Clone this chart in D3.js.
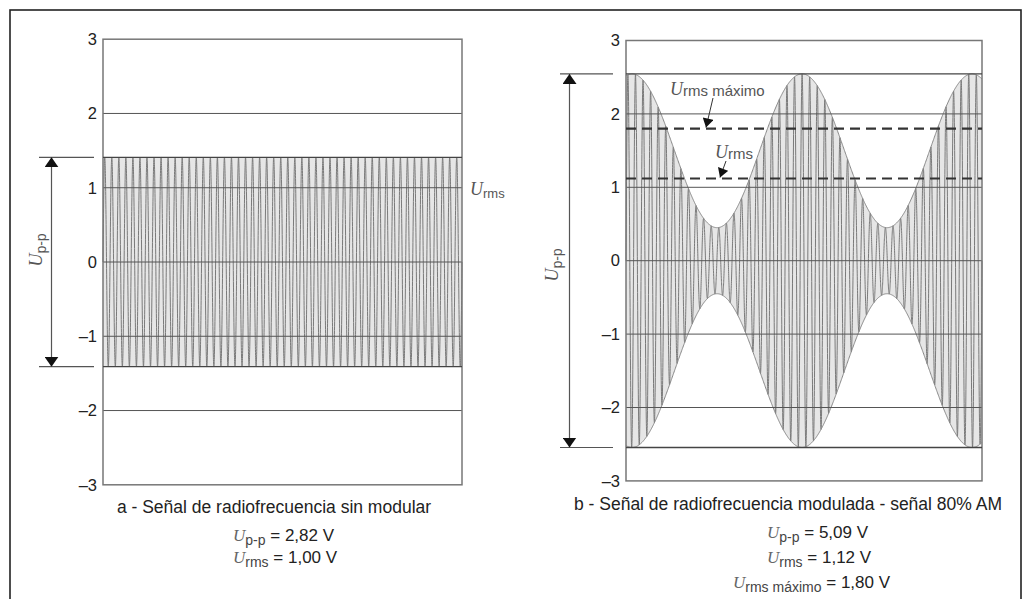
<!DOCTYPE html>
<html>
<head>
<meta charset="utf-8">
<script src="https://cdn.jsdelivr.net/npm/d3@7"></script>
<style>
  html, body { margin: 0; padding: 0; background: #fff; }
  svg { display: block; font-family: "Liberation Sans", Arial, sans-serif; }
</style>
</head>
<body>
<svg id="chart" width="1030" height="599"></svg>
<script>
// ---- values ----
const yTicks = [3, 2, 1, 0, -1, -2, -3];
const panelIds = ["a", "b"];
const titles = [
  "a - Señal de radiofrecuencia sin modular",
  "b - Señal de radiofrecuencia modulada - señal 80% AM"
];
const uPeakToPeak = [2.82, 5.09];     // V
const uRms = [1.00, 1.12];            // V
const uRmsMax = [null, 1.80];         // V
const carrierCycles = [51, 47];       // carrier periods across each plot
const envelopeTrough = [null, 0.45];  // lowest envelope level of the AM signal
const modCycles = [0, 2.094];         // modulation periods across the plot
const modPeakAt = [0, 0.017];         // first envelope crest (fraction of width)

// ---- layout ----
const W = 1030, H = 599;
const frames = [
  { x0: 103, x1: 462, yBottom: 484.8, yTop: 39.2 },
  { x0: 626, x1: 982, yBottom: 480.9, yTop: 40.5 }
];

const svg = d3.select("#chart");

// arrowhead markers
const defs = svg.append("defs");
defs.append("marker")
  .attr("id", "head")
  .attr("viewBox", "0 0 10 14")
  .attr("refX", 10).attr("refY", 7)
  .attr("markerWidth", 10).attr("markerHeight", 14)
  .attr("markerUnits", "userSpaceOnUse")
  .attr("orient", "auto-start-reverse")
  .append("path")
  .attr("d", "M0,0 L10,7 L0,14 Z")
  .attr("fill", "#111");
defs.append("marker")
  .attr("id", "headSmall")
  .attr("viewBox", "0 0 10 12")
  .attr("refX", 10).attr("refY", 6)
  .attr("markerWidth", 10).attr("markerHeight", 11)
  .attr("markerUnits", "userSpaceOnUse")
  .attr("orient", "auto")
  .append("path")
  .attr("d", "M0,0 L10,6 L0,12 Z")
  .attr("fill", "#111");

// outer frame
svg.append("rect")
  .attr("x", 10).attr("y", 10)
  .attr("width", 1011).attr("height", 620)
  .attr("fill", "none").attr("stroke", "#222").attr("stroke-width", 1.6);

function envelope(i, t) {
  const peak = uPeakToPeak[i] / 2;
  if (envelopeTrough[i] === null) return peak;
  const mid = (peak + envelopeTrough[i]) / 2;
  const amp = (peak - envelopeTrough[i]) / 2;
  return mid + amp * Math.cos(2 * Math.PI * modCycles[i] * (t - modPeakAt[i]));
}

panelIds.forEach((id, i) => {
  const f = frames[i];
  const x = d3.scaleLinear().domain([0, 1]).range([f.x0, f.x1]);
  const y = d3.scaleLinear().domain([-3, 3]).range([f.yBottom, f.yTop]);
  const g = svg.append("g").attr("class", "panel-" + id);
  const line = d3.line().x(d => x(d[0])).y(d => y(d[1]));

  // shaded band covered by the carrier
  const env = d3.range(0, 801).map(k => [k / 800, envelope(i, k / 800)]);
  g.append("path")
    .attr("d", d3.area().x(d => x(d[0])).y0(d => y(-d[1])).y1(d => y(d[1]))(env))
    .attr("fill", "#e6e6e6");

  // carrier waveform
  const n = 6000;
  const pts = d3.range(n + 1).map(k => {
    const t = k / n;
    return [t, envelope(i, t) * Math.sin(2 * Math.PI * carrierCycles[i] * t)];
  });
  g.append("path")
    .attr("d", line(pts))
    .attr("fill", "none")
    .attr("stroke", "#7a7a7a")
    .attr("stroke-width", 1);

  // envelope outline for the modulated signal
  if (envelopeTrough[i] !== null) {
    [1, -1].forEach(s => {
      g.append("path")
        .attr("d", line(env.map(d => [d[0], s * d[1]])))
        .attr("fill", "none")
        .attr("stroke", "#888")
        .attr("stroke-width", 1);
    });
  }

  // gridlines
  g.selectAll("line.grid")
    .data(yTicks.filter(v => Math.abs(v) < 3))
    .join("line")
    .attr("class", "grid")
    .attr("x1", f.x0).attr("x2", f.x1)
    .attr("y1", d => y(d)).attr("y2", d => y(d))
    .attr("stroke", "#555").attr("stroke-width", 1);

  // plot border
  g.append("rect")
    .attr("x", f.x0).attr("y", y(3))
    .attr("width", f.x1 - f.x0).attr("height", y(-3) - y(3))
    .attr("fill", "none").attr("stroke", "#777").attr("stroke-width", 1.5);

  // peak levels
  const pk = uPeakToPeak[i] / 2;
  [pk, -pk].forEach(v => {
    g.append("line")
      .attr("x1", f.x0).attr("x2", f.x1)
      .attr("y1", y(v)).attr("y2", y(v))
      .attr("stroke", "#444").attr("stroke-width", 1.3);
  });

  // y axis
  const axis = d3.axisLeft(y).tickValues(yTicks).tickSize(0).tickPadding(6)
    .tickFormat(d => d < 0 ? "–" + Math.abs(d) : String(d));
  const ag = g.append("g").attr("transform", `translate(${f.x0},0)`).call(axis);
  ag.select(".domain").remove();
  ag.selectAll("text")
    .attr("font-size", 16.5)
    .attr("font-family", "Liberation Sans, Arial, sans-serif")
    .attr("fill", "#222");

  // peak-to-peak dimension arrow
  const ax = i === 0 ? 51.5 : 569.5;
  const extL = i === 0 ? 39 : 560;
  const extR = i === 0 ? 94 : 613;
  [pk, -pk].forEach(v => {
    g.append("line")
      .attr("x1", extL).attr("x2", extR)
      .attr("y1", y(v)).attr("y2", y(v))
      .attr("stroke", "#555").attr("stroke-width", 1.2);
  });
  g.append("line")
    .attr("x1", ax).attr("x2", ax)
    .attr("y1", y(pk)).attr("y2", y(-pk))
    .attr("stroke", "#555").attr("stroke-width", 1.2)
    .attr("marker-start", "url(#head)")
    .attr("marker-end", "url(#head)");

  const lblY = i === 0 ? 250 : 265;
  const lblX = i === 0 ? 42 : 558;
  const upp = g.append("text")
    .attr("transform", `translate(${lblX},${lblY}) rotate(-90)`)
    .attr("text-anchor", "middle")
    .attr("fill", "#555");
  upp.append("tspan").text("U")
    .attr("font-family", "Liberation Serif, serif")
    .attr("font-style", "italic").attr("font-size", 18);
  upp.append("tspan").text("p-p")
    .attr("font-size", 14).attr("dy", 4);

  // captions
  const titleX = i === 0 ? 274 : 788;
  g.append("text")
    .attr("x", titleX).attr("y", i === 0 ? 513 : 510)
    .attr("text-anchor", "middle")
    .attr("font-size", 17.5)
    .attr("fill", "#222")
    .text(titles[i]);

  function formula(xs, ys, sub, value) {
    const t = g.append("text").attr("x", xs).attr("y", ys).attr("fill", "#222");
    t.append("tspan").text("U")
      .attr("font-family", "Liberation Serif, serif")
      .attr("font-style", "italic").attr("font-size", 17).attr("fill", "#666");
    t.append("tspan").text(sub).attr("font-size", 14).attr("dy", 4).attr("fill", "#444");
    t.append("tspan").text(" = " + value).attr("font-size", 17).attr("dy", -4);
  }
  const fmt = v => v.toFixed(2).replace(".", ",") + " V";
  const fx = i === 0 ? 233 : 767;
  formula(fx, i === 0 ? 541 : 538, "p-p", fmt(uPeakToPeak[i]));
  formula(fx, 563, "rms", fmt(uRms[i]));
  if (uRmsMax[i] !== null) {
    formula(733, 588, "rms máximo", fmt(uRmsMax[i]));
  }

  // rms levels
  if (i === 0) {
    const t = g.append("text").attr("x", 470).attr("y", y(uRms[i]) + 7).attr("fill", "#555");
    t.append("tspan").text("U")
      .attr("font-family", "Liberation Serif, serif")
      .attr("font-style", "italic").attr("font-size", 18);
    t.append("tspan").text("rms").attr("font-size", 13).attr("dy", 3);
  } else {
    [uRmsMax[i], uRms[i]].forEach((v, k) => {
      g.append("line")
        .attr("x1", f.x0).attr("x2", f.x1)
        .attr("y1", y(v)).attr("y2", y(v))
        .attr("stroke", "#333").attr("stroke-width", 2.2)
        .attr("stroke-dasharray", "10,6");
      // label with leader
      const tx = k === 0 ? 670 : 715;
      const ty = k === 0 ? 95 : 158;
      const lx = k === 0 ? 713 : 726;
      const ex = k === 0 ? 706 : 720;
      const t = g.append("text").attr("x", tx).attr("y", ty).attr("fill", "#555");
      t.append("tspan").text("U")
        .attr("font-family", "Liberation Serif, serif")
        .attr("font-style", "italic").attr("font-size", 18);
      t.append("tspan").text(k === 0 ? "rms máximo" : "rms")
        .attr("font-size", 15).attr("dy", 1);
      g.append("line")
        .attr("x1", lx).attr("y1", ty + 3)
        .attr("x2", ex).attr("y2", y(v) - 1)
        .attr("stroke", "#333").attr("stroke-width", 1)
        .attr("marker-end", "url(#headSmall)");
    });
  }
});
</script>
</body>
</html>
